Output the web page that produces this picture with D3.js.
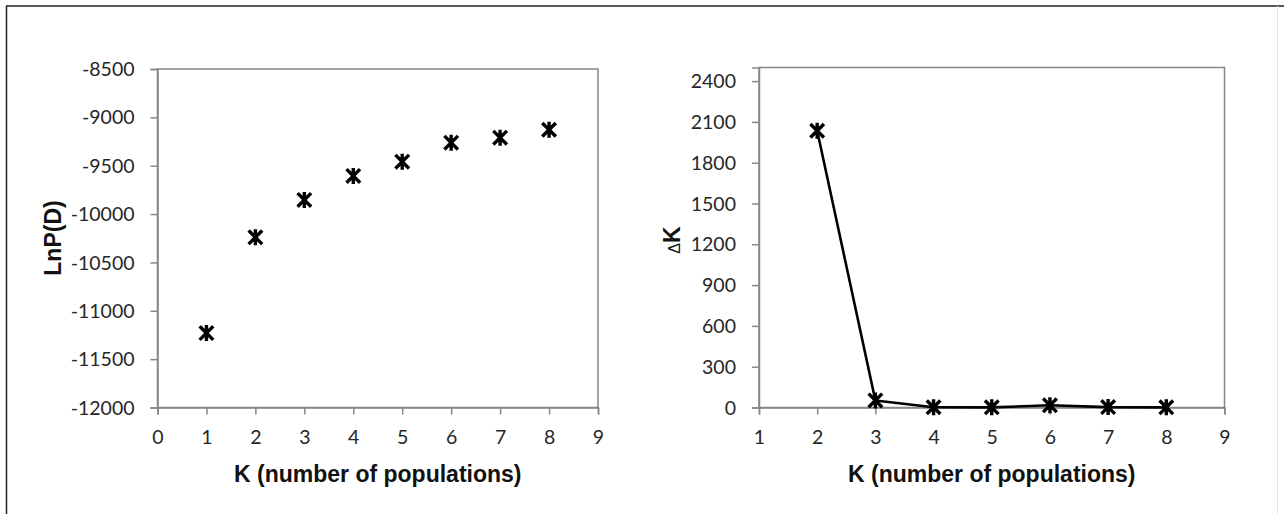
<!DOCTYPE html>
<html>
<head>
<meta charset="utf-8">
<script src="https://cdn.jsdelivr.net/npm/d3@7"></script>
<style>
  html, body { margin: 0; padding: 0; background: #fff; }
  svg { display: block; }
  .tick-label { font-family: Lato, "Open Sans", sans-serif; font-size: 19.5px; fill: #262626; }
  .axis-title { font-family: "Liberation Sans", Arial, sans-serif; font-size: 23px; font-weight: bold; fill: #111; }
</style>
</head>
<body>
<svg id="chart" width="1284" height="514"></svg>
<script>
// K values and results
const kValues = [1, 2, 3, 4, 5, 6, 7, 8];
const lnPD = [-11230, -10240, -9854, -9606, -9458, -9262, -9210, -9128];
const kDelta = [2, 3, 4, 5, 6, 7, 8];
const deltaK = [2035, 52, 2, 1, 16, 3, 1];

const leftXTicks = [0, 1, 2, 3, 4, 5, 6, 7, 8, 9];
const leftYTicks = [-12000, -11500, -11000, -10500, -10000, -9500, -9000, -8500];
const rightXTicks = [1, 2, 3, 4, 5, 6, 7, 8, 9];
const rightYTicks = [0, 300, 600, 900, 1200, 1500, 1800, 2100, 2400];

const svg = d3.select('#chart');
const axisColor = '#868686';

// outer frame of the figure
svg.append('line').attr('x1', 6).attr('y1', 6).attr('x2', 1284).attr('y2', 6)
  .attr('stroke', '#222').attr('stroke-width', 1.5);
svg.append('line').attr('x1', 6.5).attr('y1', 6).attr('x2', 6.5).attr('y2', 514)
  .attr('stroke', '#222').attr('stroke-width', 1.5);
svg.append('line').attr('x1', 1277.5).attr('y1', 6).attr('x2', 1277.5).attr('y2', 514)
  .attr('stroke', '#e4e4e4').attr('stroke-width', 1);

// star marker: an X with a vertical bar through it
const starSymbol = {
  draw(context, size) {
    const r = Math.sqrt(size) / 2;
    const d = r * 0.85;
    context.moveTo(-d, -d); context.lineTo(d, d);
    context.moveTo(-d, d); context.lineTo(d, -d);
    context.moveTo(0, -r); context.lineTo(0, r);
  }
};
const marker = d3.symbol().type(starSymbol).size(256);

function panel(opts) {
  const { left, right, top, bottom, xDomain, yDomain, xTicks, yTicks } = opts;
  const x = d3.scaleLinear().domain(xDomain).range([left, right]);
  const y = d3.scaleLinear().domain(yDomain).range([bottom, top]);
  const g = svg.append('g');

  // plot box
  g.append('rect')
    .attr('x', left).attr('y', top)
    .attr('width', right - left).attr('height', bottom - top)
    .attr('fill', 'none').attr('stroke', axisColor).attr('stroke-width', 1.5);

  const xAxis = g.append('g')
    .attr('transform', `translate(0,${bottom})`)
    .call(d3.axisBottom(x).tickValues(xTicks).tickSize(7).tickPadding(16).tickFormat(d3.format('d')));
  const yAxis = g.append('g')
    .attr('transform', `translate(${left},0)`)
    .call(d3.axisLeft(y).tickValues(yTicks).tickSize(7).tickPadding(16).tickFormat(d => String(d)));

  [xAxis, yAxis].forEach(a => {
    a.select('.domain').attr('stroke', axisColor).attr('stroke-width', 1.5);
    a.selectAll('.tick line').attr('stroke', axisColor).attr('stroke-width', 1.5);
    a.selectAll('.tick text').attr('class', 'tick-label').attr('fill', null)
      .style('font-family', null).style('font-size', null);
  });
  xAxis.attr('font-family', null).attr('font-size', null);
  yAxis.attr('font-family', null).attr('font-size', null);
  yAxis.selectAll('.tick text').attr('dy', '0.34em');

  return { g, x, y };
}

// left panel: LnP(D)
const L = panel({
  left: 157.5, right: 598, top: 69, bottom: 407.5,
  xDomain: [0, 9], yDomain: [-12000, -8500],
  xTicks: leftXTicks, yTicks: leftYTicks
});

L.g.selectAll('.pt')
  .data(kValues.map((k, i) => ({ k, v: lnPD[i] })))
  .enter().append('path')
  .attr('d', marker)
  .attr('transform', d => `translate(${L.x(d.k)},${L.y(d.v)})`)
  .attr('fill', 'none').attr('stroke', '#000').attr('stroke-width', 3.4);

L.g.append('text').attr('class', 'axis-title')
  .attr('x', (157.5 + 598) / 2).attr('y', 482)
  .attr('text-anchor', 'middle')
  .text('K (number of populations)');

L.g.append('text').attr('class', 'axis-title')
  .attr('transform', 'translate(61,238) rotate(-90)')
  .attr('text-anchor', 'middle')
  .text('LnP(D)');

// right panel: Delta K
const R = panel({
  left: 759, right: 1224.5, top: 67.5, bottom: 407.5,
  xDomain: [1, 9], yDomain: [0, 2500],
  xTicks: rightXTicks, yTicks: rightYTicks
});

const lineData = kDelta.map((k, i) => ({ k, v: deltaK[i] }));
R.g.append('path')
  .datum(lineData)
  .attr('d', d3.line().x(d => R.x(d.k)).y(d => R.y(d.v)))
  .attr('fill', 'none').attr('stroke', '#000').attr('stroke-width', 2.6)
  .attr('stroke-linejoin', 'round');

R.g.selectAll('.pt')
  .data(lineData)
  .enter().append('path')
  .attr('d', marker)
  .attr('transform', d => `translate(${R.x(d.k)},${R.y(d.v)})`)
  .attr('fill', 'none').attr('stroke', '#000').attr('stroke-width', 3.4);

R.g.append('text').attr('class', 'axis-title')
  .attr('x', (759 + 1224.5) / 2).attr('y', 482)
  .attr('text-anchor', 'middle')
  .text('K (number of populations)');

const dk = R.g.append('text').attr('class', 'axis-title')
  .attr('transform', 'translate(680,240) rotate(-90)')
  .attr('text-anchor', 'middle');
dk.append('tspan').style('font-weight', 'normal').style('font-size', '16px').text('Δ');
dk.append('tspan').text('K');
</script>
</body>
</html>
